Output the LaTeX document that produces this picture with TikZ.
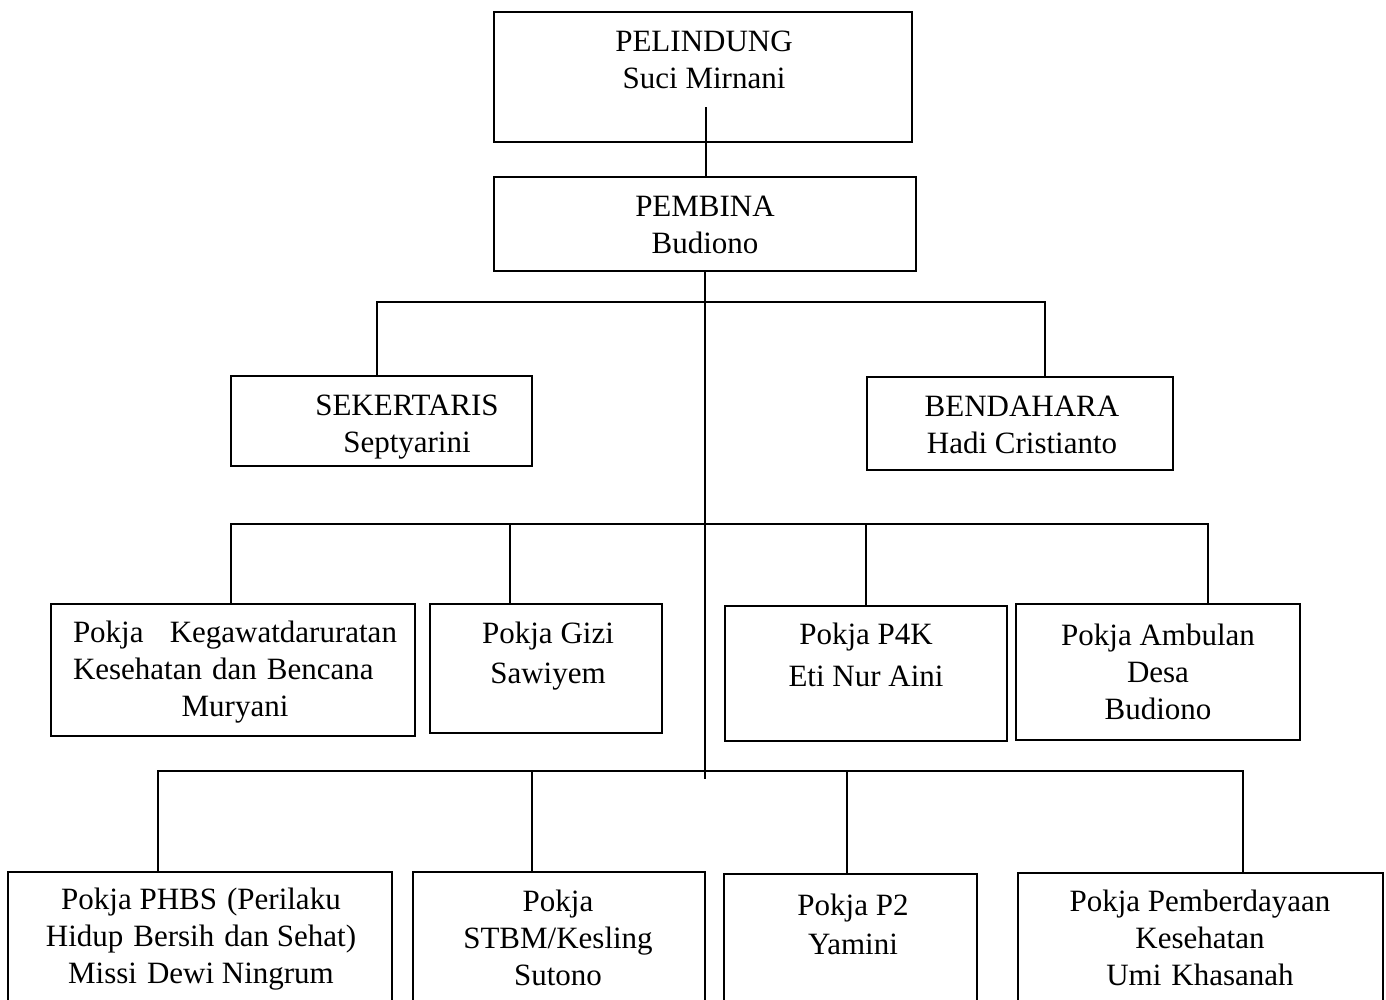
\documentclass[tikz,border=0pt]{standalone}
\usepackage{fontspec}
\setmainfont{Liberation Serif}
\usetikzlibrary{fit}
\begin{document}
\begin{tikzpicture}[x=1pt,y=-1pt,
  box/.style={draw,line width=1.6pt,inner sep=0pt,fit={#1}},
  lbl/.style={align=center,font=\fontsize{31}{37}\selectfont,inner sep=0pt},
  conn/.style={line width=1.6pt}]
\clip (0,0) rectangle (1386,999);
\fill[white] (0,0) rectangle (1386,999);
% boxes
\node[box={(494,12)(912,142)}] (pel) {};
\node[box={(494,177)(916,271)}] (pem) {};
\node[box={(231,376)(532,466)}] (sek) {};
\node[box={(867,377)(1173,470)}] (ben) {};
\node[box={(51,604)(415,736)}] (keg) {};
\node[box={(430,604)(662,733)}] (gizi) {};
\node[box={(725,606)(1007,741)}] (pfk) {};
\node[box={(1016,604)(1300,740)}] (amb) {};
\node[box={(8,872)(392,1012)}] (phbs) {};
\node[box={(413,872)(705,1012)}] (stbm) {};
\node[box={(724,874)(977,1012)}] (ptwo) {};
\node[box={(1018,873)(1383,1012)}] (pemb) {};
% texts
\node[lbl] (pelt) at (704,60) {PELINDUNG\\Suci Mirnani};
\node[lbl] (pemt) at (705,225) {PEMBINA\\Budiono};
\node[lbl] (sekt) at (407,427) {SEKERTARIS\\Septyarini};
\node[lbl] (bent) at (1022,425) {BENDAHARA\\Hadi Cristianto};
\node[lbl,text width=324pt] (kegt) at (235,672) {Pokja\hfill Kegawatdaruratan\\Kesehatan\hspace{10pt}dan\hspace{10pt}Bencana\hfill\null\\Muryani};
\node[lbl,font=\fontsize{31}{40}\selectfont] (gizit) at (548,656) {Pokja Gizi\\Sawiyem};
\node[lbl,font=\fontsize{31}{42}\selectfont] (pfkt) at (866,655) {Pokja P4K\\Eti Nur Aini};
\node[lbl] (ambt) at (1158,672) {Pokja Ambulan\\Desa\\Budiono};
\node[lbl] (phbst) at (201,939) {Pokja PHBS\hspace{10pt}(Perilaku\\Hidup\hspace{10pt}Bersih\hspace{10pt}dan Sehat)\\Missi\hspace{10pt}Dewi Ningrum};
\node[lbl] (stbmt) at (558,938) {Pokja\\STBM/Kesling\\Sutono};
\node[lbl,font=\fontsize{31}{39}\selectfont] (ptwot) at (853,924) {Pokja P2\\Yamini};
\node[lbl] (pembt) at (1200,938) {Pokja Pemberdayaan\\Kesehatan\\Umi\hspace{10pt}Khasanah};
% connector coordinates
\coordinate (stem) at (706,107);
\coordinate (trunk) at (705,779);
\coordinate (busAl) at (377,302);
\coordinate (busAr) at (1045,302);
\coordinate (busBl) at (231,524);
\coordinate (busBr) at (1208,524);
\coordinate (busCl) at (158,771);
\coordinate (busCr) at (1243,771);
% connectors
\draw[conn] (stem) -- (stem |- pem.north);
\draw[conn] (pem.south) -- (trunk);
\draw[conn] (busAl |- sek.north) -- (busAl) -- (busAr) -- (busAr |- ben.north);
\draw[conn] (busBl |- keg.north) -- (busBl) -- (busBr) -- (busBr |- amb.north);
\draw[conn] (510,524) -- (510,0 |- gizi.north);
\draw[conn] (pfk.north |- busBl) -- (pfk.north);
\draw[conn] (busCl |- phbs.north) -- (busCl) -- (busCr) -- (busCr |- pemb.north);
\draw[conn] (532,771) -- (532,0 |- stbm.north);
\draw[conn] (847,771) -- (847,0 |- ptwo.north);
\end{tikzpicture}
\end{document}
